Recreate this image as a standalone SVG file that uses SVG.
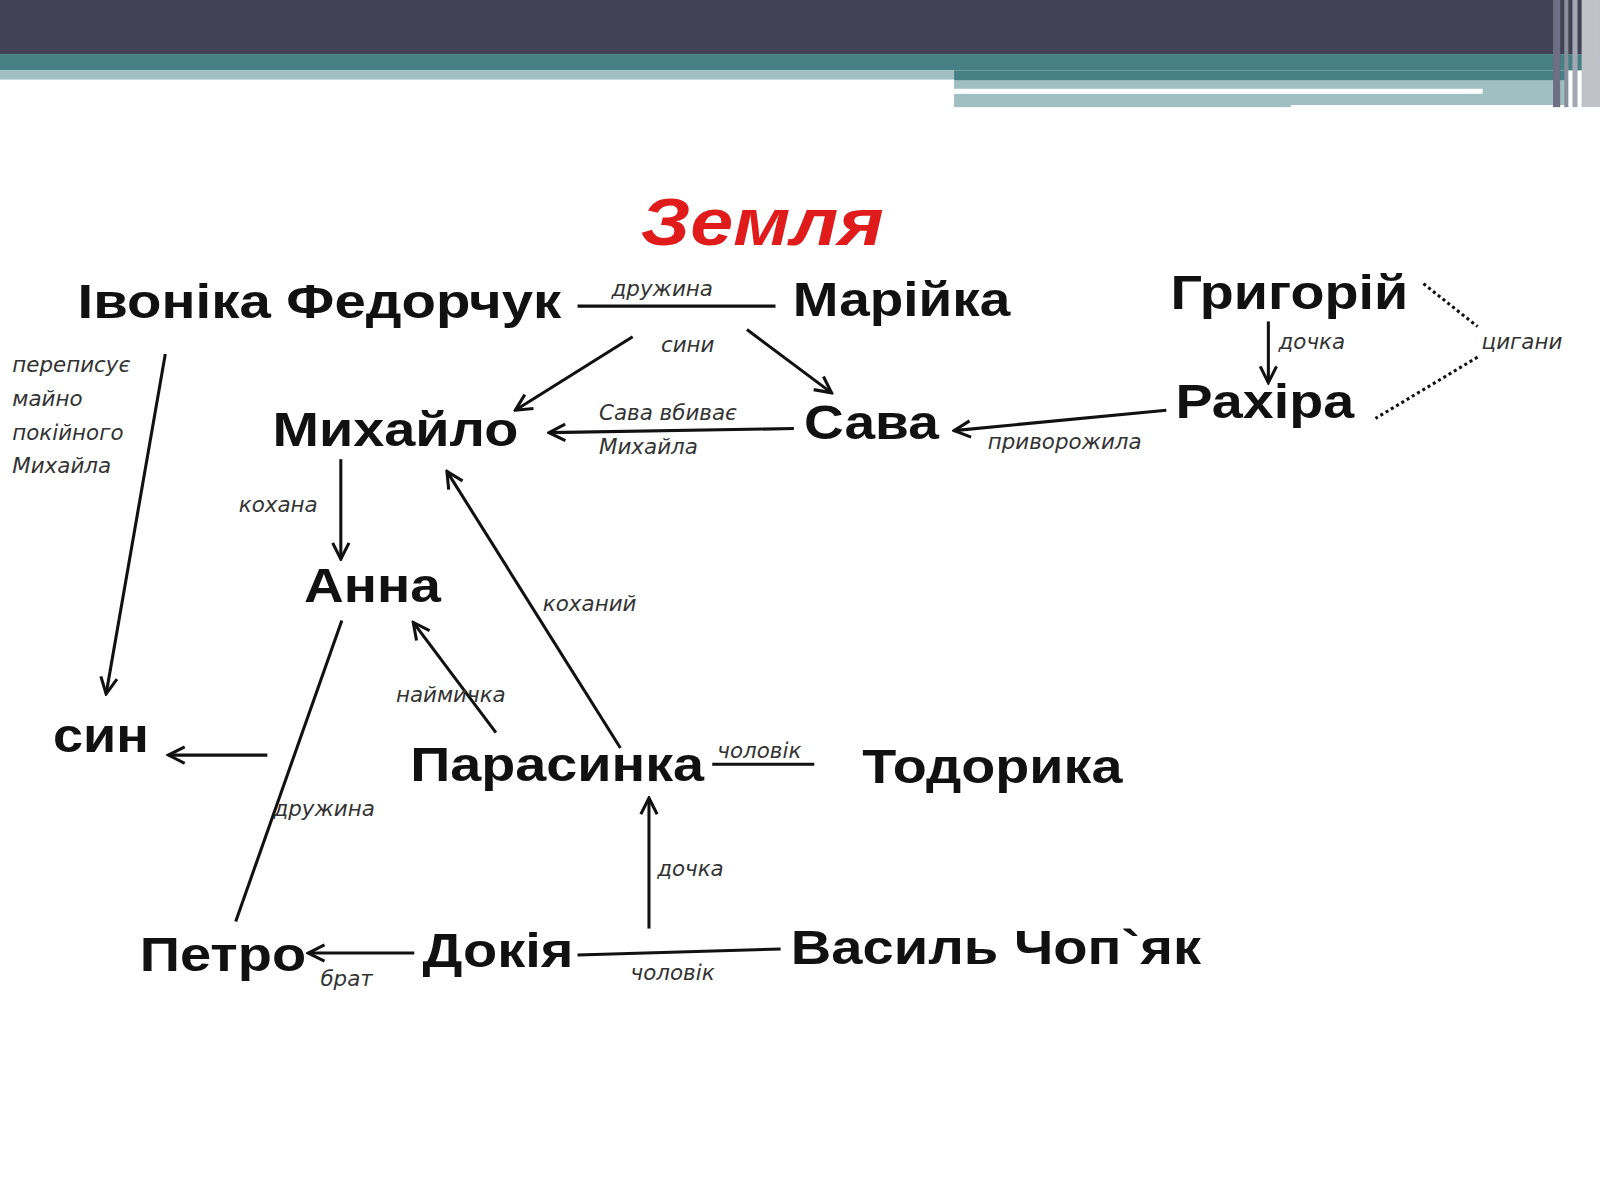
<svg xmlns="http://www.w3.org/2000/svg" width="1600" height="1200" viewBox="0 0 1600 1200">
<defs>
<marker id="a" viewBox="0 0 20 20" refX="18" refY="10" markerWidth="20" markerHeight="20" markerUnits="userSpaceOnUse" orient="auto"><path d="M2 2 L18 10 L2 18" fill="none" stroke="#111" stroke-width="3"/></marker>
<style>
.n{font-family:"Liberation Sans",Arial,sans-serif;font-weight:bold;font-size:47px;fill:#111}
.l{font-family:"DejaVu Sans",sans-serif;font-style:italic;font-size:21px;fill:#333}
.c line,.c path{stroke:#111;stroke-width:3;fill:none}
</style>
</defs>
<rect width="1600" height="1200" fill="#fff"/>
<g transform="scale(1.0204)">
<g id="header">
<rect x="0" y="0" width="1568" height="53" fill="#424254"/>
<rect x="0" y="53" width="1568" height="16" fill="#467f84"/>
<rect x="0" y="69" width="935" height="9" fill="#a0bfc1"/>
<rect x="935" y="69" width="600" height="10" fill="#467f84"/>
<rect x="935" y="79" width="600" height="26" fill="#a0bfc1"/>
<rect x="935" y="87" width="518" height="5" fill="#fff"/>
<rect x="1265" y="103" width="270" height="5" fill="#fff"/>
<rect x="1522" y="0" width="7" height="105" fill="#6e6e84"/>
<rect x="1533" y="0" width="4" height="105" fill="#8a8fa0"/>
<rect x="1541" y="0" width="5" height="105" fill="#a5a8b4"/>
<rect x="1550" y="0" width="18" height="105" fill="#c0c2c8"/>
</g>
<text x="628" y="240" textLength="238" lengthAdjust="spacingAndGlyphs" font-family="Liberation Sans,Arial,sans-serif" font-weight="bold" font-style="italic" font-size="66" fill="#e01b1b">Земля</text>
<g class="c" id="connectors">
<line x1="566" y1="300" x2="760" y2="300"/>
<line x1="620" y1="330" x2="505" y2="402" marker-end="url(#a)"/>
<line x1="732" y1="323" x2="815" y2="385" marker-end="url(#a)"/>
<line x1="778" y1="420" x2="538" y2="424" marker-end="url(#a)"/>
<line x1="1143" y1="402" x2="935" y2="422" marker-end="url(#a)"/>
<line x1="1243" y1="315" x2="1243" y2="375" marker-end="url(#a)"/>
<path d="M1395 278 L1448 320" stroke-dasharray="3 3"/>
<path d="M1448 350 L1348 410" stroke-dasharray="3 3"/>
<line x1="162" y1="347" x2="104" y2="680" marker-end="url(#a)"/>
<line x1="334" y1="450" x2="334" y2="548" marker-end="url(#a)"/>
<line x1="608" y1="733" x2="438" y2="462" marker-end="url(#a)"/>
<line x1="486" y1="718" x2="405" y2="610" marker-end="url(#a)"/>
<line x1="262" y1="740" x2="165" y2="740" marker-end="url(#a)"/>
<line x1="335" y1="608" x2="231" y2="903"/>
<line x1="698" y1="749" x2="798" y2="749"/>
<line x1="636" y1="910" x2="636" y2="782" marker-end="url(#a)"/>
<line x1="406" y1="934" x2="302" y2="934" marker-end="url(#a)"/>
<line x1="566" y1="936" x2="765" y2="930"/>
</g>
<g id="labels">
<text class="l" x="649" y="290" text-anchor="middle">дружина</text>
<text class="l" x="674" y="345" text-anchor="middle">сини</text>
<text class="l" x="587" y="412">Сава вбиває</text>
<text class="l" x="587" y="445">Михайла</text>
<text class="l" x="968" y="440">приворожила</text>
<text class="l" x="1253" y="342">дочка</text>
<text class="l" x="1452" y="342">цигани</text>
<text class="l" x="12" y="365">переписує</text>
<text class="l" x="12" y="398">майно</text>
<text class="l" x="12" y="431">покійного</text>
<text class="l" x="12" y="464">Михайла</text>
<text class="l" x="234" y="502">кохана</text>
<text class="l" x="532" y="599">коханий</text>
<text class="l" x="388" y="688">наймичка</text>
<text class="l" x="268" y="800">дружина</text>
<text class="l" x="703" y="743">чоловік</text>
<text class="l" x="644" y="858">дочка</text>
<text class="l" x="314" y="966">брат</text>
<text class="l" x="618" y="960">чоловік</text>
</g>
<g id="n1"><text class="n" x="76" y="312" textLength="474" lengthAdjust="spacingAndGlyphs">Івоніка Федорчук</text></g>
<g id="n2"><text class="n" x="777" y="310" textLength="213" lengthAdjust="spacingAndGlyphs">Марійка</text></g>
<g id="n3"><text class="n" x="1147" y="303" textLength="233" lengthAdjust="spacingAndGlyphs">Григорій</text></g>
<g id="n4"><text class="n" x="1152" y="410" textLength="175" lengthAdjust="spacingAndGlyphs">Рахіра</text></g>
<g id="n5"><text class="n" x="788" y="430" textLength="132" lengthAdjust="spacingAndGlyphs">Сава</text></g>
<g id="n6"><text class="n" x="267" y="437" textLength="241" lengthAdjust="spacingAndGlyphs">Михайло</text></g>
<g id="n7"><text class="n" x="298" y="590" textLength="134" lengthAdjust="spacingAndGlyphs">Анна</text></g>
<g id="n8"><text class="n" x="52" y="737" textLength="94" lengthAdjust="spacingAndGlyphs">син</text></g>
<g id="n9"><text class="n" x="402" y="765" textLength="288" lengthAdjust="spacingAndGlyphs">Парасинка</text></g>
<g id="n10"><text class="n" x="845" y="767" textLength="255" lengthAdjust="spacingAndGlyphs">Тодорика</text></g>
<g id="n11"><text class="n" x="137" y="952" textLength="163" lengthAdjust="spacingAndGlyphs">Петро</text></g>
<g id="n12"><text class="n" x="414" y="948" textLength="148" lengthAdjust="spacingAndGlyphs">Докія</text></g>
<g id="n13"><text class="n" x="775" y="945" textLength="402" lengthAdjust="spacingAndGlyphs">Василь Чоп`як</text></g>
</g>
</svg>
